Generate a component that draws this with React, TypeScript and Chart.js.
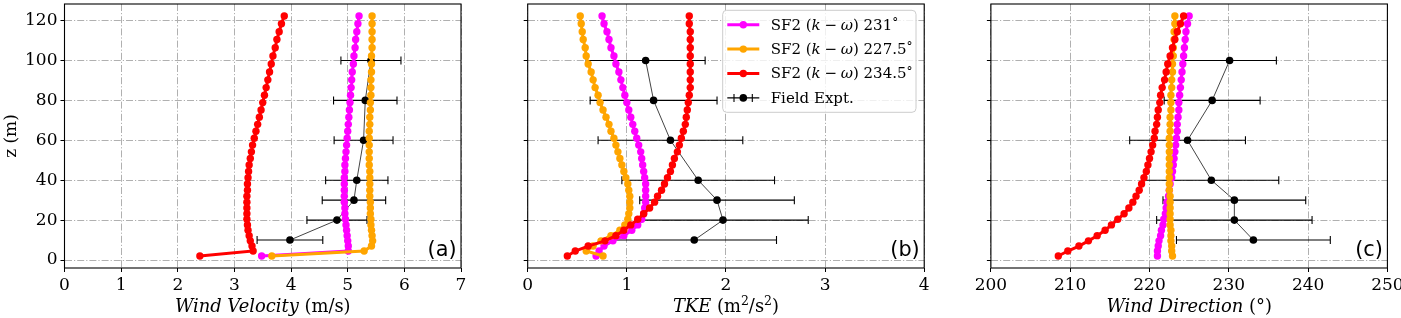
import React, { useEffect, useRef } from 'react';
import { Chart, registerables } from 'chart.js';

Chart.register(...registerables);

const SERIF = "'DejaVu Serif', serif";
const SANS = "'DejaVu Sans', sans-serif";

// ---------------- data ----------------
const zLevels = [2.0, 4.5, 7.0, 9.6, 12.2, 14.9, 17.6, 20.4, 23.2, 26.1, 29.0, 32.0, 35.0, 38.1, 41.2, 44.4, 47.6, 50.9, 54.2, 57.6, 61.0, 64.5, 68.0, 71.6, 75.2, 78.9, 82.6, 86.4, 90.3, 94.2, 98.2, 102.3, 106.4, 110.5, 114.4, 118.4, 122.3];

const velMagenta = [3.48, 5.01, 5.01, 5.00, 4.99, 4.98, 4.97, 4.96, 4.95, 4.95, 4.94, 4.94, 4.94, 4.94, 4.94, 4.95, 4.95, 4.96, 4.97, 4.98, 4.99, 5.00, 5.01, 5.02, 5.03, 5.04, 5.05, 5.06, 5.07, 5.08, 5.10, 5.11, 5.13, 5.14, 5.16, 5.18, 5.20];
const velOrange = [3.66, 5.29, 5.42, 5.44, 5.43, 5.42, 5.41, 5.41, 5.40, 5.40, 5.40, 5.39, 5.39, 5.39, 5.39, 5.39, 5.38, 5.38, 5.38, 5.38, 5.38, 5.38, 5.39, 5.39, 5.40, 5.40, 5.41, 5.41, 5.41, 5.42, 5.42, 5.42, 5.43, 5.43, 5.43, 5.43, 5.43];
const velRed = [2.39, 3.33, 3.31, 3.28, 3.26, 3.24, 3.23, 3.22, 3.22, 3.22, 3.22, 3.22, 3.23, 3.23, 3.24, 3.25, 3.26, 3.28, 3.30, 3.32, 3.35, 3.38, 3.41, 3.44, 3.47, 3.50, 3.53, 3.56, 3.59, 3.62, 3.65, 3.68, 3.72, 3.75, 3.79, 3.83, 3.88];

const tkeMagenta = [0.69, 0.72, 0.77, 0.86, 0.97, 1.05, 1.11, 1.15, 1.17, 1.18, 1.19, 1.19, 1.19, 1.19, 1.18, 1.17, 1.16, 1.15, 1.14, 1.12, 1.10, 1.08, 1.06, 1.04, 1.02, 1.00, 0.98, 0.96, 0.94, 0.92, 0.89, 0.87, 0.84, 0.82, 0.80, 0.77, 0.75];
const tkeOrange = [0.76, 0.59, 0.66, 0.74, 0.84, 0.93, 0.98, 1.01, 1.02, 1.03, 1.03, 1.03, 1.02, 1.01, 0.99, 0.97, 0.95, 0.93, 0.91, 0.89, 0.87, 0.84, 0.82, 0.79, 0.76, 0.73, 0.71, 0.68, 0.66, 0.64, 0.61, 0.59, 0.58, 0.56, 0.55, 0.54, 0.53];
const tkeRed = [0.40, 0.48, 0.61, 0.78, 0.89, 0.97, 1.04, 1.11, 1.17, 1.23, 1.28, 1.31, 1.35, 1.38, 1.41, 1.44, 1.46, 1.48, 1.51, 1.53, 1.55, 1.57, 1.59, 1.60, 1.61, 1.62, 1.63, 1.64, 1.64, 1.64, 1.64, 1.64, 1.64, 1.64, 1.64, 1.63, 1.63];

const dirMagenta = [221.0, 221.0, 221.1, 221.2, 221.4, 221.5, 221.7, 221.8, 222.0, 222.1, 222.2, 222.4, 222.5, 222.6, 222.8, 222.9, 223.0, 223.1, 223.2, 223.3, 223.4, 223.5, 223.5, 223.6, 223.7, 223.7, 223.8, 223.9, 224.0, 224.1, 224.2, 224.3, 224.4, 224.5, 224.6, 224.8, 225.0];
const dirOrange = [222.9, 222.8, 222.8, 222.7, 222.7, 222.7, 222.6, 222.6, 222.6, 222.6, 222.6, 222.6, 222.5, 222.5, 222.5, 222.5, 222.5, 222.5, 222.5, 222.5, 222.5, 222.6, 222.6, 222.6, 222.7, 222.7, 222.7, 222.8, 222.8, 222.9, 222.9, 223.0, 223.0, 223.1, 223.1, 223.2, 223.2];
const dirRed = [208.5, 209.7, 211.1, 212.3, 213.4, 214.4, 215.2, 216.0, 216.8, 217.4, 217.9, 218.3, 218.7, 219.0, 219.3, 219.6, 219.8, 220.0, 220.2, 220.4, 220.6, 220.7, 220.9, 221.0, 221.1, 221.3, 221.4, 221.6, 221.9, 222.1, 222.3, 222.6, 222.9, 223.2, 223.5, 223.9, 224.3];

const fieldZ = [10, 20, 30, 40, 60, 80, 100];
const fieldVel = [3.98, 4.81, 5.11, 5.16, 5.28, 5.31, 5.41];
const fieldVelErr = [0.58, 0.53, 0.56, 0.55, 0.52, 0.56, 0.53];
const fieldTke = [1.68, 1.97, 1.91, 1.72, 1.44, 1.27, 1.19];
const fieldTkeErr = [0.83, 0.86, 0.78, 0.77, 0.73, 0.64, 0.60];
const fieldDir = [233.1, 230.7, 230.7, 227.8, 224.8, 227.9, 230.1];
const fieldDirErr = [9.7, 9.8, 9.0, 8.5, 7.3, 6.05, 5.9];

const zTicks = [0, 20, 40, 60, 80, 100, 120];
const velTicks = [0, 1, 2, 3, 4, 5, 6, 7];
const tkeTicks = [0, 1, 2, 3, 4];
const dirTicks = [200, 210, 220, 230, 240, 250];

const seriesLabels = ['SF2 (k − ω) 231°', 'SF2 (k − ω) 227.5°', 'SF2 (k − ω) 234.5°'];
const fieldLabel = 'Field Expt.';
const seriesColors = ['#ff00ff', '#ffa500', '#ff0000'];
const yTitle = 'z (m)';
const panelLetters = ['(a)', '(b)', '(c)'];
// [text, style] style: i = italic, n = normal, s = superscript, d = small degree
const xTitleA: [string, string][] = [['Wind Velocity', 'i'], [' (m/s)', 'n']];
const xTitleB: [string, string][] = [['TKE', 'i'], [' (m', 'n'], ['2', 's'], ['/s', 'n'], ['2', 's'], [')', 'n']];
const xTitleC: [string, string][] = [['Wind Direction', 'i'], [' (°)', 'n']];

// ---------------- layout ----------------
const H = 318;
const TICK_FONT = 17;
const TITLE_FONT = 17.9;
const LEGEND_FONT = 15;
const panels = [
  { canvasLeft: 0, canvasWidth: 480, axisW: 64.5, padRight: 19, xMin: 0, xMax: 7, xTicks: velTicks, series: [velMagenta, velOrange, velRed], field: fieldVel, fieldErr: fieldVelErr, title: xTitleA, letter: panelLetters[0], yLabels: true, legend: false },
  { canvasLeft: 480, canvasWidth: 460, axisW: 47.7, padRight: 15.8, xMin: 0, xMax: 4, xTicks: tkeTicks, series: [tkeMagenta, tkeOrange, tkeRed], field: fieldTke, fieldErr: fieldTkeErr, title: xTitleB, letter: panelLetters[1], yLabels: false, legend: true },
  { canvasLeft: 940, canvasWidth: 461, axisW: 50.9, padRight: 13.6, xMin: 200, xMax: 250, xTicks: dirTicks, series: [dirMagenta, dirOrange, dirRed], field: fieldDir, fieldErr: fieldDirErr, title: xTitleC, letter: panelLetters[2], yLabels: false, legend: false },
];

function drawParts(ctx: CanvasRenderingContext2D, parts: [string, string][], x: number, y: number, size: number, align: 'center' | 'left') {
  const fontFor = (s: string) =>
    s === 'i' ? `italic ${size}px ${SERIF}` : s === 's' ? `${size * 0.7}px ${SERIF}` : s === 'd' ? `${size * 0.8}px ${SERIF}` : `${size}px ${SERIF}`;
  const lift = (s: string) => (s === 's' ? size * 0.38 : s === 'd' ? size * 0.12 : 0);
  const widths = parts.map(([t, s]) => { ctx.font = fontFor(s); return ctx.measureText(t).width; });
  const total = widths.reduce((a, b) => a + b, 0);
  let cx = align === 'center' ? x - total / 2 : x;
  ctx.textAlign = 'left';
  parts.forEach(([t, s], i) => {
    ctx.font = fontFor(s);
    ctx.fillText(t, cx, y - lift(s));
    cx += widths[i];
  });
}

// legend label -> styled runs (math symbols italic, narrow spaces around the minus, small degree)
function labelParts(label: string): [string, string][] {
  return label
    .replace(' − ', '\u2005−\u2005')
    .split(/([kω°])/)
    .filter((t) => t.length > 0)
    .map((t) => [t, t === 'k' || t === 'ω' ? 'i' : t === '°' ? 'd' : 'n'] as [string, string]);
}

function buildConfig(p: any) {
  const pts = (xs: number[]) => zLevels.map((z, i) => ({ x: xs[i], y: z }));
  const lineDs = (idx: number, order: number) => ({
    label: seriesLabels[idx],
    data: pts(p.series[idx]),
    showLine: true,
    borderColor: seriesColors[idx],
    backgroundColor: seriesColors[idx],
    pointBackgroundColor: seriesColors[idx],
    borderWidth: 3,
    pointRadius: 3.7,
    pointBorderWidth: 0,
    order,
  });
  const datasets: any[] = [
    lineDs(2, 0),
    lineDs(1, 1),
    lineDs(0, 2),
    {
      label: fieldLabel,
      data: fieldZ.map((z, i) => ({ x: p.field[i], y: z })),
      showLine: true,
      borderColor: '#444',
      backgroundColor: '#000',
      pointBackgroundColor: '#000',
      borderWidth: 1,
      pointRadius: 3.8,
      pointBorderWidth: 0,
      order: 3,
    },
  ];

  const errorBars = {
    id: 'errorBars',
    beforeDatasetsDraw(chart: any) {
      const { ctx, scales, chartArea } = chart;
      const xs = scales.x, ys = scales.y;
      ctx.save();
      ctx.beginPath();
      ctx.rect(chartArea.left, chartArea.top, chartArea.right - chartArea.left, chartArea.bottom - chartArea.top);
      ctx.clip();
      ctx.strokeStyle = '#000';
      ctx.lineWidth = 1.1;
      fieldZ.forEach((z, i) => {
        const py = ys.getPixelForValue(z);
        const x1 = xs.getPixelForValue(p.field[i] - p.fieldErr[i]);
        const x2 = xs.getPixelForValue(p.field[i] + p.fieldErr[i]);
        ctx.beginPath();
        ctx.moveTo(x1, py); ctx.lineTo(x2, py);
        ctx.moveTo(x1, py - 4); ctx.lineTo(x1, py + 4);
        ctx.moveTo(x2, py - 4); ctx.lineTo(x2, py + 4);
        ctx.stroke();
      });
      ctx.restore();
    },
  };

  const decorations = {
    id: 'decorations',
    afterDraw(chart: any) {
      const { ctx, chartArea } = chart;
      ctx.save();
      // frame
      ctx.strokeStyle = '#000';
      ctx.lineWidth = 1.1;
      ctx.strokeRect(chartArea.left, chartArea.top, chartArea.right - chartArea.left, chartArea.bottom - chartArea.top);
      // x title
      ctx.fillStyle = '#000';
      ctx.textBaseline = 'alphabetic';
      drawParts(ctx, p.title, (chartArea.left + chartArea.right) / 2, 312, TITLE_FONT, 'center');
      // panel letter
      ctx.font = `20.8px ${SANS}`;
      ctx.textAlign = 'right';
      ctx.fillText(p.letter, chartArea.right - 4.5, chartArea.bottom - 12);
      // legend
      if (p.legend) {
        const bx = chartArea.right - 201.5;
        const by = chartArea.top + 6.3;
        const bw = 193.3, bh = 102;
        ctx.beginPath();
        (ctx as any).roundRect(bx, by, bw, bh, 4);
        ctx.fillStyle = 'rgba(255,255,255,0.8)';
        ctx.fill();
        ctx.strokeStyle = '#cccccc';
        ctx.lineWidth = 1;
        ctx.stroke();
        [0, 1, 2].forEach((idx, row) => {
          const ry = by + 14.4 + row * 24.4;
          ctx.strokeStyle = seriesColors[idx];
          ctx.lineWidth = 3;
          ctx.beginPath();
          ctx.moveTo(bx + 4.6, ry); ctx.lineTo(bx + 36.6, ry);
          ctx.stroke();
          ctx.fillStyle = seriesColors[idx];
          ctx.beginPath();
          ctx.arc(bx + 20.6, ry, 3.7, 0, Math.PI * 2);
          ctx.fill();
          ctx.fillStyle = '#000';
          ctx.textBaseline = 'middle';
          drawParts(ctx, labelParts(seriesLabels[idx]), bx + 48, ry + 1, LEGEND_FONT, 'left');
        });
        const ry = by + 14.4 + 3 * 24.4;
        ctx.strokeStyle = '#000';
        ctx.lineWidth = 1.1;
        ctx.beginPath();
        ctx.moveTo(bx + 4.6, ry); ctx.lineTo(bx + 36.6, ry);
        ctx.moveTo(bx + 11.3, ry - 4); ctx.lineTo(bx + 11.3, ry + 4);
        ctx.moveTo(bx + 29.6, ry - 4); ctx.lineTo(bx + 29.6, ry + 4);
        ctx.stroke();
        ctx.fillStyle = '#000';
        ctx.beginPath();
        ctx.arc(bx + 20.6, ry, 3.8, 0, Math.PI * 2);
        ctx.fill();
        ctx.textBaseline = 'middle';
        drawParts(ctx, [[fieldLabel, 'n']], bx + 48, ry + 1, LEGEND_FONT, 'left');
      }
      ctx.restore();
    },
  };

  const gridDash = [7, 2, 1.2, 2];
  return {
    type: 'scatter',
    data: { datasets },
    plugins: [errorBars, decorations],
    options: {
      animation: false,
      responsive: false,
      devicePixelRatio: 1,
      events: [],
      layout: { padding: { left: 0, right: p.padRight, top: 1, bottom: 0 } },
      plugins: { legend: { display: false }, tooltip: { enabled: false } },
      scales: {
        x: {
          type: 'linear',
          min: p.xMin,
          max: p.xMax,
          afterBuildTicks: (s: any) => { s.ticks = p.xTicks.map((v: number) => ({ value: v })); },
          afterFit: (s: any) => { s.height = 50; s.paddingLeft = 0; s.paddingRight = 0; },
          ticks: { color: '#000', font: { family: SERIF, size: TICK_FONT }, padding: 3, maxRotation: 0, autoSkip: false, callback: (v: any) => String(v) },
          grid: { color: '#b0b0b0', lineWidth: 1, tickLength: 4, tickColor: '#000', tickWidth: 1 },
          border: { display: false, dash: gridDash },
        },
        y: {
          type: 'linear',
          min: -4,
          max: 128.3,
          afterBuildTicks: (s: any) => { s.ticks = zTicks.map((v) => ({ value: v })); },
          afterFit: (s: any) => { s.width = p.axisW; s.paddingTop = 0; s.paddingBottom = 0; },
          ticks: { display: p.yLabels, color: '#000', font: { family: SERIF, size: TICK_FONT }, padding: 3, callback: (v: any) => String(v) },
          grid: { color: '#b0b0b0', lineWidth: 1, tickLength: 4, tickColor: '#000', tickWidth: 1 },
          border: { display: false, dash: gridDash },
          title: { display: p.yLabels, text: yTitle, color: '#000', font: { family: SERIF, size: TICK_FONT }, padding: { top: 1.5, bottom: 0 } },
        },
      },
    },
  };
}

export default function App() {
  const r0 = useRef<HTMLCanvasElement>(null);
  const r1 = useRef<HTMLCanvasElement>(null);
  const r2 = useRef<HTMLCanvasElement>(null);
  const refs = [r0, r1, r2];

  useEffect(() => {
    const charts = panels.map((p, i) => new Chart(refs[i].current as HTMLCanvasElement, buildConfig(p) as any));
    return () => charts.forEach((c) => c.destroy());
  }, []);

  return (
    <div style={{ position: 'absolute', left: 0, top: 0, width: 1401, height: H, background: '#fff', overflow: 'hidden' }}>
      {panels.map((p, i) => (
        <canvas
          key={i}
          ref={refs[i]}
          width={p.canvasWidth}
          height={H}
          style={{ position: 'absolute', left: p.canvasLeft, top: 0, width: p.canvasWidth, height: H }}
        />
      ))}
    </div>
  );
}
